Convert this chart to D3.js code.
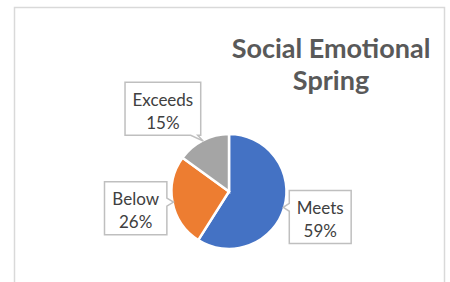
<!DOCTYPE html>
<html>
<head>
<meta charset="UTF-8">
<title>Social Emotional Spring</title>
<script src="https://d3js.org/d3.v7.min.js"></script>
<style>
  body { margin: 0; background: #fff; }
  svg text { font-family: Lato, "Open Sans", sans-serif; }
</style>
</head>
<body>
<div id="chart"></div>
<script>
// data
var categories = ["Meets", "Below", "Exceeds"];
var values = [59, 26, 15];
var colors = ["#4472C4", "#ED7D31", "#A5A5A5"];
var titleLines = ["Social Emotional", "Spring"];

var width = 450, height = 282;
var cx = 229, cy = 191.5, radius = 57.5;

var svg = d3.select("#chart").append("svg")
    .attr("width", width)
    .attr("height", height);

// chart frame
svg.append("rect")
    .attr("x", 14.5).attr("y", 7.5)
    .attr("width", 430).attr("height", 300)
    .attr("fill", "#fff")
    .attr("stroke", "#d9d9d9")
    .attr("stroke-width", 1.5);

// title
svg.append("text")
    .attr("x", 331).attr("y", 58)
    .attr("text-anchor", "middle")
    .attr("font-size", "27px")
    .attr("font-weight", "bold")
    .attr("fill", "#595959")
    .selectAll("tspan")
    .data(titleLines)
    .enter().append("tspan")
    .attr("x", 331)
    .attr("dy", function(d, i) { return i === 0 ? 0 : 32; })
    .text(function(d) { return d; });

var data = categories.map(function(c, i) { return { name: c, value: values[i], color: colors[i] }; });

var pie = d3.pie().sort(null).value(function(d) { return d.value; });
var arc = d3.arc().innerRadius(0).outerRadius(radius);
var arcs = pie(data);

var g = svg.append("g").attr("transform", "translate(" + cx + "," + cy + ")");

g.selectAll("path.slice")
    .data(arcs)
    .enter().append("path")
    .attr("class", "slice")
    .attr("d", arc)
    .attr("fill", function(d) { return d.data.color; })
    .attr("stroke", "#fff")
    .attr("stroke-width", 2.5);

// callout labels
var labelArc = d3.arc().innerRadius(95).outerRadius(95);
var edgeArc = d3.arc().innerRadius(radius - 1).outerRadius(radius - 1);
var nudge = { Exceeds: [-23, 3] };
var total = d3.sum(values);

arcs.forEach(function(d) {
  var c = labelArc.centroid(d);
  var n = nudge[d.data.name] || [0, 0];
  var lx = cx + c[0] + n[0], ly = cy + c[1] + n[1];
  var e = edgeArc.centroid(d);
  var ax = cx + e[0], ay = cy + e[1];

  var lg = svg.append("g");
  var box = lg.append("path");
  var txt = lg.append("text")
      .attr("text-anchor", "middle")
      .attr("font-size", "17px")
      .attr("fill", "#404040");
  txt.append("tspan").attr("x", lx).attr("y", ly - 4).text(d.data.name);
  txt.append("tspan").attr("x", lx).attr("y", ly + 19)
      .text(Math.round(d.data.value / total * 100) + "%");

  var bb = txt.node().getBBox();
  var w = bb.width + 15, h = 53;
  var x0 = lx - w / 2, x1 = lx + w / 2, y0 = ly - h / 2 - 1, y1 = ly + h / 2 - 1;

  // outline, with a small pointer toward the slice
  var pts;
  var outX = ax > x1 ? ax - x1 : (ax < x0 ? x0 - ax : 0);
  var outY = ay > y1 ? ay - y1 : (ay < y0 ? y0 - ay : 0);
  if (outY > outX && ay > y1) {
    var px = Math.min(Math.max(ax, x0 + 10), x1 - 3);
    pts = [[x0, y0], [x1, y0], [x1, y1], [px, y1], [ax, ay], [px - 7, y1], [x0, y1]];
  } else if (ax > x1) {
    var py = Math.min(Math.max(ay, y0 + 6), y1 - 6);
    pts = [[x0, y0], [x1, y0], [x1, py - 4], [ax, ay], [x1, py + 4], [x1, y1], [x0, y1]];
  } else {
    var py2 = Math.min(Math.max(ay, y0 + 6), y1 - 6);
    pts = [[x0, y0], [x1, y0], [x1, y1], [x0, y1], [x0, py2 + 4], [ax, ay], [x0, py2 - 4]];
  }
  box.attr("d", d3.line()(pts) + "Z")
      .attr("fill", "#fff")
      .attr("stroke", "#bfbfbf")
      .attr("stroke-width", 1.5);
});
</script>
</body>
</html>
